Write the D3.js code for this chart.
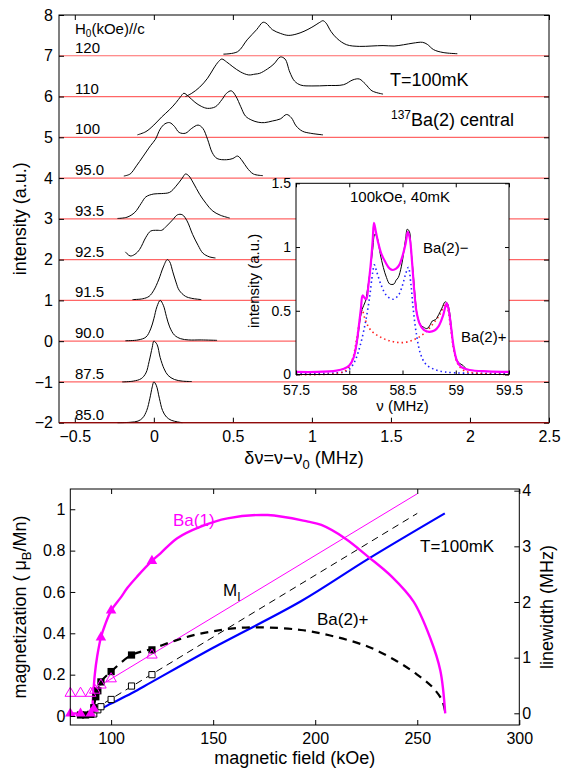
<!DOCTYPE html>
<html>
<head>
<meta charset="utf-8">
<script src="https://cdn.jsdelivr.net/npm/d3@7"></script>
<style>
  body { margin: 0; background: #fff; }
  svg text { font-family: "Liberation Sans", Arial, Helvetica, sans-serif; fill: #000; }
</style>
</head>
<body>
<div class="canvas"></div>
<script>
// ---------- top panel: spectra, [dv (MHz), height above baseline] ----------
const s850 = [[-0.23,0],[-0.15,0.01],[-0.1,0.04],[-0.07,0.12],[-0.045,0.3],[-0.025,0.6],[-0.01,0.88],[0,1.0],[0.015,0.92],[0.035,0.6],[0.055,0.3],[0.08,0.14],[0.11,0.06],[0.15,0.02],[0.18,0.0]];
const s875 = [[-0.2,0],[-0.13,0.02],[-0.08,0.08],[-0.05,0.22],[-0.03,0.5],[-0.01,0.85],[0,1.0],[0.02,0.92],[0.04,0.6],[0.065,0.32],[0.09,0.16],[0.13,0.06],[0.18,0.02],[0.24,0.01]];
const s900 = [[-0.18,0.01],[-0.1,0.03],[-0.05,0.1],[-0.02,0.3],[0,0.55],[0.02,0.85],[0.04,1.0],[0.06,0.88],[0.08,0.6],[0.1,0.35],[0.13,0.15],[0.17,0.06],[0.22,0.03],[0.3,0.03],[0.4,0.02]];
const s915 = [[-0.135,0.02],[-0.07,0.04],[-0.03,0.1],[0,0.25],[0.03,0.5],[0.06,0.82],[0.085,1.0],[0.1,0.95],[0.12,0.7],[0.14,0.45],[0.16,0.25],[0.2,0.1],[0.24,0.05],[0.3,0.02]];
const s925 = [[-0.18,0.19],[-0.15,0.09],[-0.12,0.13],[-0.09,0.25],[-0.05,0.55],[-0.02,0.7],[0.02,0.72],[0.05,0.72],[0.08,0.82],[0.12,0.98],[0.15,1.1],[0.18,1.1],[0.21,0.95],[0.245,0.62],[0.28,0.35],[0.31,0.16],[0.35,0.07],[0.39,0.04]];
const s935 = [[-0.23,0.01],[-0.17,0.04],[-0.12,0.16],[-0.08,0.38],[-0.05,0.54],[0,0.61],[0.05,0.62],[0.1,0.65],[0.14,0.8],[0.18,1.0],[0.2,1.1],[0.22,1.06],[0.25,0.88],[0.29,0.6],[0.33,0.38],[0.37,0.2],[0.42,0.09],[0.48,0.02]];
const s950 = [[-0.19,0.05],[-0.15,0.1],[-0.11,0.3],[-0.07,0.52],[-0.02,0.8],[0.01,0.95],[0.04,1.2],[0.07,1.33],[0.1,1.36],[0.13,1.27],[0.16,1.12],[0.2,1.1],[0.24,1.22],[0.28,1.3],[0.31,1.22],[0.34,0.95],[0.37,0.62],[0.4,0.48],[0.46,0.45],[0.5,0.48],[0.53,0.54],[0.56,0.42],[0.59,0.25],[0.63,0.1],[0.69,0.06]];
const s100 = [[-0.104,0.06],[-0.05,0.14],[0,0.3],[0.05,0.5],[0.1,0.68],[0.14,0.85],[0.17,1.0],[0.19,1.08],[0.22,1.0],[0.26,0.86],[0.3,0.76],[0.34,0.71],[0.39,0.75],[0.43,0.92],[0.46,1.08],[0.49,1.14],[0.52,1.0],[0.55,0.75],[0.58,0.52],[0.62,0.42],[0.66,0.37],[0.7,0.36],[0.75,0.4],[0.8,0.45],[0.84,0.56],[0.87,0.48],[0.9,0.28],[0.94,0.15],[0.99,0.1],[1.07,0.06]];
const s110 = [[0.2,0],[0.24,0.08],[0.29,0.23],[0.34,0.45],[0.38,0.7],[0.41,0.86],[0.43,0.92],[0.46,0.85],[0.5,0.73],[0.55,0.6],[0.6,0.53],[0.64,0.55],[0.67,0.57],[0.72,0.68],[0.76,0.8],[0.8,0.97],[0.83,0.92],[0.86,0.6],[0.89,0.38],[0.93,0.28],[1.0,0.26],[1.1,0.27],[1.2,0.29],[1.26,0.41],[1.3,0.43],[1.34,0.3],[1.38,0.14],[1.45,0.06]];
const s120 = [[0.44,0.04],[0.53,0.1],[0.59,0.39],[0.65,0.64],[0.69,0.82],[0.71,0.8],[0.75,0.64],[0.8,0.55],[0.85,0.5],[0.9,0.53],[0.95,0.6],[1.0,0.7],[1.05,0.82],[1.07,0.86],[1.09,0.8],[1.12,0.6],[1.16,0.42],[1.22,0.27],[1.3,0.23],[1.38,0.24],[1.45,0.25],[1.52,0.24],[1.58,0.27],[1.64,0.31],[1.7,0.33],[1.73,0.28],[1.77,0.15],[1.83,0.08],[1.92,0.05]];

const fieldLabels = ['85.0','87.5','90.0','91.5','92.5','93.5','95.0','100','110','120'];
const baselines = [-2,-1,0,1,2,3,4,5,6,7];
const spectra = [s850,s875,s900,s915,s925,s935,s950,s100,s110,s120];
const xTicksTop = [-0.5,0,0.5,1,1.5,2,2.5];
const yTicksTop = [-2,-1,0,1,2,3,4,5,6,7,8];

// ---------- inset: 100kOe, 40mK, [nu (MHz), intensity] ----------
const insetMeas = [[57.98,0.05],[58.02,0.09],[58.05,0.16],[58.08,0.29],[58.1,0.42],[58.12,0.51],[58.15,0.57],[58.17,0.66],[58.2,0.84],[58.22,0.98],[58.24,1.1],[58.26,1.08],[58.29,0.95],[58.32,0.84],[58.35,0.76],[58.38,0.71],[58.42,0.71],[58.44,0.74],[58.46,0.76],[58.49,0.85],[58.51,0.95],[58.53,1.07],[58.545,1.14],[58.565,1.12],[58.58,0.98],[58.6,0.8],[58.62,0.6],[58.64,0.46],[58.67,0.39],[58.7,0.37],[58.73,0.36],[58.76,0.39],[58.78,0.42],[58.81,0.43],[58.84,0.47],[58.87,0.52],[58.9,0.57],[58.92,0.56],[58.94,0.5],[58.96,0.36],[58.98,0.21],[59.0,0.14],[59.02,0.1],[59.05,0.08],[59.07,0.07],[59.1,0.04]];
const insetFit = [[57.5,0.02],[57.7,0.02],[57.88,0.03],[57.95,0.045],[58.0,0.07],[58.04,0.13],[58.07,0.25],[58.09,0.38],[58.11,0.52],[58.125,0.62],[58.145,0.6],[58.16,0.59],[58.18,0.7],[58.2,0.85],[58.22,1.05],[58.232,1.19],[58.25,1.12],[58.27,1.04],[58.3,0.95],[58.34,0.88],[58.38,0.83],[58.41,0.82],[58.44,0.83],[58.47,0.86],[58.5,0.93],[58.53,1.03],[58.55,1.12],[58.57,1.06],[58.59,0.88],[58.61,0.66],[58.63,0.5],[58.66,0.4],[58.7,0.35],[58.75,0.335],[58.8,0.345],[58.84,0.38],[58.88,0.46],[58.915,0.56],[58.935,0.5],[58.955,0.38],[58.98,0.22],[59.01,0.11],[59.05,0.06],[59.13,0.035],[59.3,0.025],[59.5,0.02]];
const insetBa2m = [[57.5,0.01],[57.8,0.01],[57.95,0.02],[58.0,0.04],[58.05,0.1],[58.1,0.22],[58.15,0.4],[58.19,0.6],[58.22,0.8],[58.235,0.86],[58.26,0.8],[58.3,0.7],[58.35,0.62],[58.41,0.59],[58.46,0.62],[58.5,0.7],[58.53,0.79],[58.555,0.84],[58.58,0.7],[58.6,0.52],[58.63,0.32],[58.67,0.16],[58.72,0.08],[58.8,0.04],[58.9,0.02],[59.1,0.01],[59.5,0.01]];
const insetBa2p = [[57.5,0],[57.9,0.01],[57.98,0.04],[58.03,0.12],[58.07,0.28],[58.1,0.44],[58.12,0.51],[58.15,0.43],[58.2,0.35],[58.3,0.29],[58.4,0.26],[58.5,0.25],[58.6,0.27],[58.7,0.32],[58.78,0.39],[58.85,0.47],[58.9,0.55],[58.92,0.53],[58.95,0.38],[58.98,0.2],[59.02,0.08],[59.08,0.03],[59.2,0.01],[59.5,0]];
const insetXTicks = [57.5,58,58.5,59,59.5];
const insetYTicks = [0,0.5,1,1.5];

// ---------- bottom panel, [H (kOe), value on left axis] ----------
const ba1Curve = [[80,0.012],[85,0.012],[90,0.012],[90.6,0.03],[91.2,0.1],[92,0.2],[93.2,0.29],[95,0.38],[97,0.44],[100,0.51],[104.5,0.57],[108,0.62],[112.7,0.674],[120,0.75],[124.2,0.787],[132.4,0.86],[143.9,0.916],[157,0.956],[176.7,0.972],[196.5,0.94],[203,0.924],[214.5,0.86],[226,0.77],[237.5,0.674],[248.2,0.553],[256.4,0.376],[261.3,0.22],[263.7,0.013]];
const ba1Filled = [[80,0.012],[85,0.012],[90,0.012],[91.5,0.035],[95,0.38],[100,0.51],[120,0.75]];
const ba1Open = [[80,0.11],[85,0.11],[90,0.11],[92,0.125],[95,0.15],[100,0.18],[120,0.295]];
const mILine = [[92.5,0.135],[250,1.075]];
const sqFilled = [[85,0.005],[87.5,0.005],[90,0.008],[91.5,0.04],[92.5,0.093],[93.5,0.122],[95,0.165],[100,0.215],[110,0.295],[120,0.32]];
const sqOpen = [[91.5,0.01],[93.5,0.03],[95,0.045],[100,0.08],[110,0.145],[120,0.2]];
const thinDash = [[92,0.035],[250,0.98]];
const blueCurve = [[91.5,0.02],[95,0.035],[100,0.06],[110,0.11],[120,0.165],[150,0.33],[193,0.555],[226,0.76],[263.5,0.98]];
const ba2pCurve = [[91.5,0.04],[92.5,0.093],[93.5,0.122],[95,0.165],[100,0.215],[110,0.295],[120,0.325],[130,0.36],[140,0.39],[150,0.41],[160,0.424],[173,0.429],[193,0.416],[209.6,0.384],[226,0.335],[239,0.271],[249,0.207],[257.2,0.142],[262.1,0.077],[263.7,0.02]];
const fieldTicks = [100,150,200,250,300];
const magTicks = [0,0.2,0.4,0.6,0.8,1];
const lwTicks = [0,1,2,3,4];

const fmt = d3.format('');
const noLabel = () => '';

const svg = d3.select('.canvas')
    .append('svg')
    .attr('width', 563)
    .attr('height', 771);

svg.append('rect').attr('width', 563).attr('height', 771).attr('fill', '#fff');

const styleAxis = (g, size) => {
    g.select('.domain').remove();
    g.attr('font-family', null);
    g.selectAll('line').attr('stroke', '#000');
    g.selectAll('text').attr('font-size', size);
};

// =============== top panel ===============
const x1 = d3.scaleLinear().domain([-0.6, 2.5]).range([59, 549]);
const y1 = d3.scaleLinear().domain([-2, 8]).range([422.7, 15]);
const topG = svg.append('g');

//red baselines
topG.selectAll('.base')
    .data(baselines)
    .enter().append('line')
    .attr('x1', x1(-0.6)).attr('x2', x1(2.5))
    .attr('y1', d => y1(d)).attr('y2', d => y1(d))
    .attr('stroke', '#f00').attr('stroke-opacity', 0.6).attr('stroke-width', 1.2);

spectra.forEach((s, i) => {
    const line = d3.line()
        .x(d => x1(d[0]))
        .y(d => y1(baselines[i] + d[1]))
        .curve(d3.curveCatmullRom.alpha(0.5));
    topG.append('path').datum(s)
        .attr('d', line)
        .attr('fill', 'none').attr('stroke', '#000').attr('stroke-width', 1);
    topG.append('text')
        .attr('x', 75).attr('y', y1(baselines[i]) - 3)
        .attr('font-size', 15)
        .text(fieldLabels[i]);
});

const hLab = topG.append('text').attr('x', 75).attr('y', 34).attr('font-size', 15);
hLab.append('tspan').text('H');
hLab.append('tspan').attr('font-size', 10).attr('dy', 3).text('0');
hLab.append('tspan').attr('dy', -3).text('(kOe)//c');

topG.append('text').attr('x', 390).attr('y', 86).attr('font-size', 18).text('T=100mK');
const baLab = topG.append('text').attr('x', 391).attr('y', 126).attr('font-size', 18);
baLab.append('tspan').attr('font-size', 12).attr('dy', -7).text('137');
baLab.append('tspan').attr('dy', 7).text('Ba(2) central');

topG.append('g').attr('transform', `translate(0,${y1(-2)})`)
    .call(d3.axisBottom(x1).tickValues(xTicksTop).tickFormat(fmt).tickSize(-5).tickPadding(8))
    .call(styleAxis, 16);
topG.append('g').attr('transform', `translate(0,${y1(8)})`)
    .call(d3.axisTop(x1).tickValues(xTicksTop).tickFormat(noLabel).tickSize(-5))
    .call(styleAxis, 16);
topG.append('g').attr('transform', `translate(${x1(-0.6)},0)`)
    .call(d3.axisLeft(y1).tickValues(yTicksTop).tickFormat(fmt).tickSize(-5).tickPadding(6))
    .call(styleAxis, 16);
topG.append('g').attr('transform', `translate(${x1(2.5)},0)`)
    .call(d3.axisRight(y1).tickValues(yTicksTop).tickFormat(noLabel).tickSize(-5))
    .call(styleAxis, 16);
topG.append('rect')
    .attr('x', x1(-0.6)).attr('y', y1(8))
    .attr('width', x1(2.5) - x1(-0.6)).attr('height', y1(-2) - y1(8))
    .attr('fill', 'none').attr('stroke', '#000');
topG.append('line')
    .attr('x1', x1(-0.6)).attr('x2', x1(2.5))
    .attr('y1', y1(-2)).attr('y2', y1(-2))
    .attr('stroke', '#f00').attr('stroke-opacity', 0.45).attr('stroke-width', 1.2);

topG.append('text')
    .attr('transform', `translate(26,${(y1(8) + y1(-2)) / 2}) rotate(-90)`)
    .attr('text-anchor', 'middle').attr('font-size', 18)
    .text('intensity (a.u.)');
const dvLab = topG.append('text')
    .attr('x', (x1(-0.6) + x1(2.5)) / 2).attr('y', 464)
    .attr('text-anchor', 'middle').attr('font-size', 18);
dvLab.append('tspan').text('δν=ν−ν');
dvLab.append('tspan').attr('font-size', 13).attr('dy', 5).text('0');
dvLab.append('tspan').attr('dy', -5).text(' (MHz)');

// =============== inset ===============
const xi = d3.scaleLinear().domain([57.5, 59.5]).range([296, 509]);
const yi = d3.scaleLinear().domain([0, 1.5]).range([374.5, 183.3]);
const inG = svg.append('g');

inG.append('rect')
    .attr('x', xi(57.5)).attr('y', yi(1.5))
    .attr('width', xi(59.5) - xi(57.5)).attr('height', yi(0) - yi(1.5))
    .attr('fill', '#fff');

const iLine = d3.line().x(d => xi(d[0])).y(d => yi(d[1])).curve(d3.curveCatmullRom.alpha(0.5));

inG.append('path').datum(insetBa2m).attr('d', iLine)
    .attr('fill', 'none').attr('stroke', '#2020ff').attr('stroke-width', 1.6)
    .attr('stroke-dasharray', '1.5,3');
inG.append('path').datum(insetBa2p).attr('d', iLine)
    .attr('fill', 'none').attr('stroke', '#ff2020').attr('stroke-width', 1.6)
    .attr('stroke-dasharray', '1.5,3');
inG.append('path').datum(insetMeas).attr('d', iLine)
    .attr('fill', 'none').attr('stroke', '#000').attr('stroke-width', 1);
inG.append('path').datum(insetFit).attr('d', iLine)
    .attr('fill', 'none').attr('stroke', '#ff00ff').attr('stroke-width', 2.2);

inG.append('g').attr('transform', `translate(0,${yi(0)})`)
    .call(d3.axisBottom(xi).tickValues(insetXTicks).tickFormat(fmt).tickSize(-4).tickPadding(11))
    .call(styleAxis, 14);
inG.append('g').attr('transform', `translate(0,${yi(1.5)})`)
    .call(d3.axisTop(xi).tickValues(insetXTicks).tickFormat(noLabel).tickSize(-4))
    .call(styleAxis, 14);
inG.append('g').attr('transform', `translate(${xi(57.5)},0)`)
    .call(d3.axisLeft(yi).tickValues(insetYTicks).tickFormat(fmt).tickSize(-4).tickPadding(5))
    .call(styleAxis, 14);
inG.append('g').attr('transform', `translate(${xi(59.5)},0)`)
    .call(d3.axisRight(yi).tickValues(insetYTicks).tickFormat(noLabel).tickSize(-4))
    .call(styleAxis, 14);
inG.append('rect')
    .attr('x', xi(57.5)).attr('y', yi(1.5))
    .attr('width', xi(59.5) - xi(57.5)).attr('height', yi(0) - yi(1.5))
    .attr('fill', 'none').attr('stroke', '#000');

inG.append('text').attr('x', 400).attr('y', 202).attr('text-anchor', 'middle')
    .attr('font-size', 15).text('100kOe, 40mK');
inG.append('text').attr('x', 423).attr('y', 253).attr('font-size', 15).text('Ba(2)−');
inG.append('text').attr('x', 461).attr('y', 342).attr('font-size', 15).text('Ba(2)+');
inG.append('text').attr('x', (xi(57.5) + xi(59.5)) / 2).attr('y', 411)
    .attr('text-anchor', 'middle').attr('font-size', 15).text('ν (MHz)');
inG.append('text')
    .attr('transform', `translate(259,${(yi(0) + yi(1.5)) / 2 + 2}) rotate(-90)`)
    .attr('text-anchor', 'middle').attr('font-size', 15)
    .text('intensity (a.u.)');

// =============== bottom panel ===============
const xb = d3.scaleLinear().domain([80, 300]).range([70.3, 519.3]);
const yb = d3.scaleLinear().domain([-0.0435, 1.098]).range([725, 489]);
const yr = d3.scaleLinear().domain([-0.21, 4.03]).range([725, 489]);
const botG = svg.append('g');

const bLine = d3.line().x(d => xb(d[0])).y(d => yb(d[1]));
const bCurve = d3.line().x(d => xb(d[0])).y(d => yb(d[1])).curve(d3.curveCatmullRom.alpha(0.5));

botG.append('path').datum(mILine).attr('d', bLine)
    .attr('fill', 'none').attr('stroke', '#ff00ff').attr('stroke-width', 1);
botG.append('path').datum(thinDash).attr('d', bLine)
    .attr('fill', 'none').attr('stroke', '#000').attr('stroke-width', 1)
    .attr('stroke-dasharray', '7,5');
botG.append('path').datum(blueCurve).attr('d', bCurve)
    .attr('fill', 'none').attr('stroke', '#0000ff').attr('stroke-width', 2.2);
botG.append('path').datum(ba2pCurve).attr('d', bCurve)
    .attr('fill', 'none').attr('stroke', '#000').attr('stroke-width', 2.2)
    .attr('stroke-dasharray', '8,6');
botG.append('path').datum(ba1Curve).attr('d', bCurve)
    .attr('fill', 'none').attr('stroke', '#ff00ff').attr('stroke-width', 2.4);

const tri = d3.symbol().type(d3.symbolTriangle).size(48);
const sq = d3.symbol().type(d3.symbolSquare).size(52);

botG.selectAll('.sqo').data(sqOpen).enter().append('path')
    .attr('d', d3.symbol().type(d3.symbolSquare).size(38))
    .attr('transform', d => `translate(${xb(d[0])},${yb(d[1])})`)
    .attr('fill', '#fff').attr('stroke', '#000').attr('stroke-width', 1);
botG.selectAll('.sqf').data(sqFilled).enter().append('path')
    .attr('d', sq)
    .attr('transform', d => `translate(${xb(d[0])},${yb(d[1])})`)
    .attr('fill', '#000');
botG.selectAll('.trio').data(ba1Open).enter().append('path')
    .attr('d', tri)
    .attr('transform', d => `translate(${xb(d[0])},${yb(d[1])})`)
    .attr('fill', 'none').attr('stroke', '#ff00ff').attr('stroke-width', 1);
botG.selectAll('.trif').data(ba1Filled).enter().append('path')
    .attr('d', tri)
    .attr('transform', d => `translate(${xb(d[0])},${yb(d[1])})`)
    .attr('fill', '#ff00ff');

botG.append('g').attr('transform', `translate(0,${yb.range()[0]})`)
    .call(d3.axisBottom(xb).tickValues(fieldTicks).tickFormat(fmt).tickSize(-5).tickPadding(8))
    .call(styleAxis, 16);
botG.append('g').attr('transform', `translate(0,${yb.range()[1]})`)
    .call(d3.axisTop(xb).tickValues(fieldTicks).tickFormat(noLabel).tickSize(-5))
    .call(styleAxis, 16);
botG.append('g').attr('transform', `translate(${xb(80)},0)`)
    .call(d3.axisLeft(yb).tickValues(magTicks).tickFormat(fmt).tickSize(-5).tickPadding(5))
    .call(styleAxis, 16);
botG.append('g').attr('transform', `translate(${xb(300)},0)`)
    .call(d3.axisRight(yr).tickValues(lwTicks).tickFormat(fmt).tickSize(-5).tickPadding(3))
    .call(styleAxis, 16);
botG.append('rect')
    .attr('x', xb(80)).attr('y', yb.range()[1])
    .attr('width', xb(300) - xb(80)).attr('height', yb.range()[0] - yb.range()[1])
    .attr('fill', 'none').attr('stroke', '#000');

botG.append('text').attr('x', 173).attr('y', 526).attr('font-size', 17)
    .style('fill', '#ff00ff').text('Ba(1)');
const mLab = botG.append('text').attr('x', 223).attr('y', 596).attr('font-size', 17);
mLab.append('tspan').text('M');
mLab.append('tspan').attr('font-size', 12).attr('dy', 5).text('I');
botG.append('text').attr('x', 420).attr('y', 552).attr('font-size', 17).text('T=100mK');
botG.append('text').attr('x', 317).attr('y', 625).attr('font-size', 17).text('Ba(2)+');

const magLab = botG.append('text')
    .attr('transform', `translate(26,${(yb.range()[0] + yb.range()[1]) / 2}) rotate(-90)`)
    .attr('text-anchor', 'middle').attr('font-size', 18);
magLab.append('tspan').text('magnetization ( μ');
magLab.append('tspan').attr('font-size', 13).attr('dy', 5).text('B');
magLab.append('tspan').attr('dy', -5).text('/Mn)');
botG.append('text')
    .attr('transform', `translate(553,${(yb.range()[0] + yb.range()[1]) / 2}) rotate(-90)`)
    .attr('text-anchor', 'middle').attr('font-size', 18)
    .text('linewidth (MHz)');
botG.append('text')
    .attr('x', (xb(80) + xb(300)) / 2).attr('y', 764)
    .attr('text-anchor', 'middle').attr('font-size', 18)
    .text('magnetic field (kOe)');
</script>
</body>
</html>
